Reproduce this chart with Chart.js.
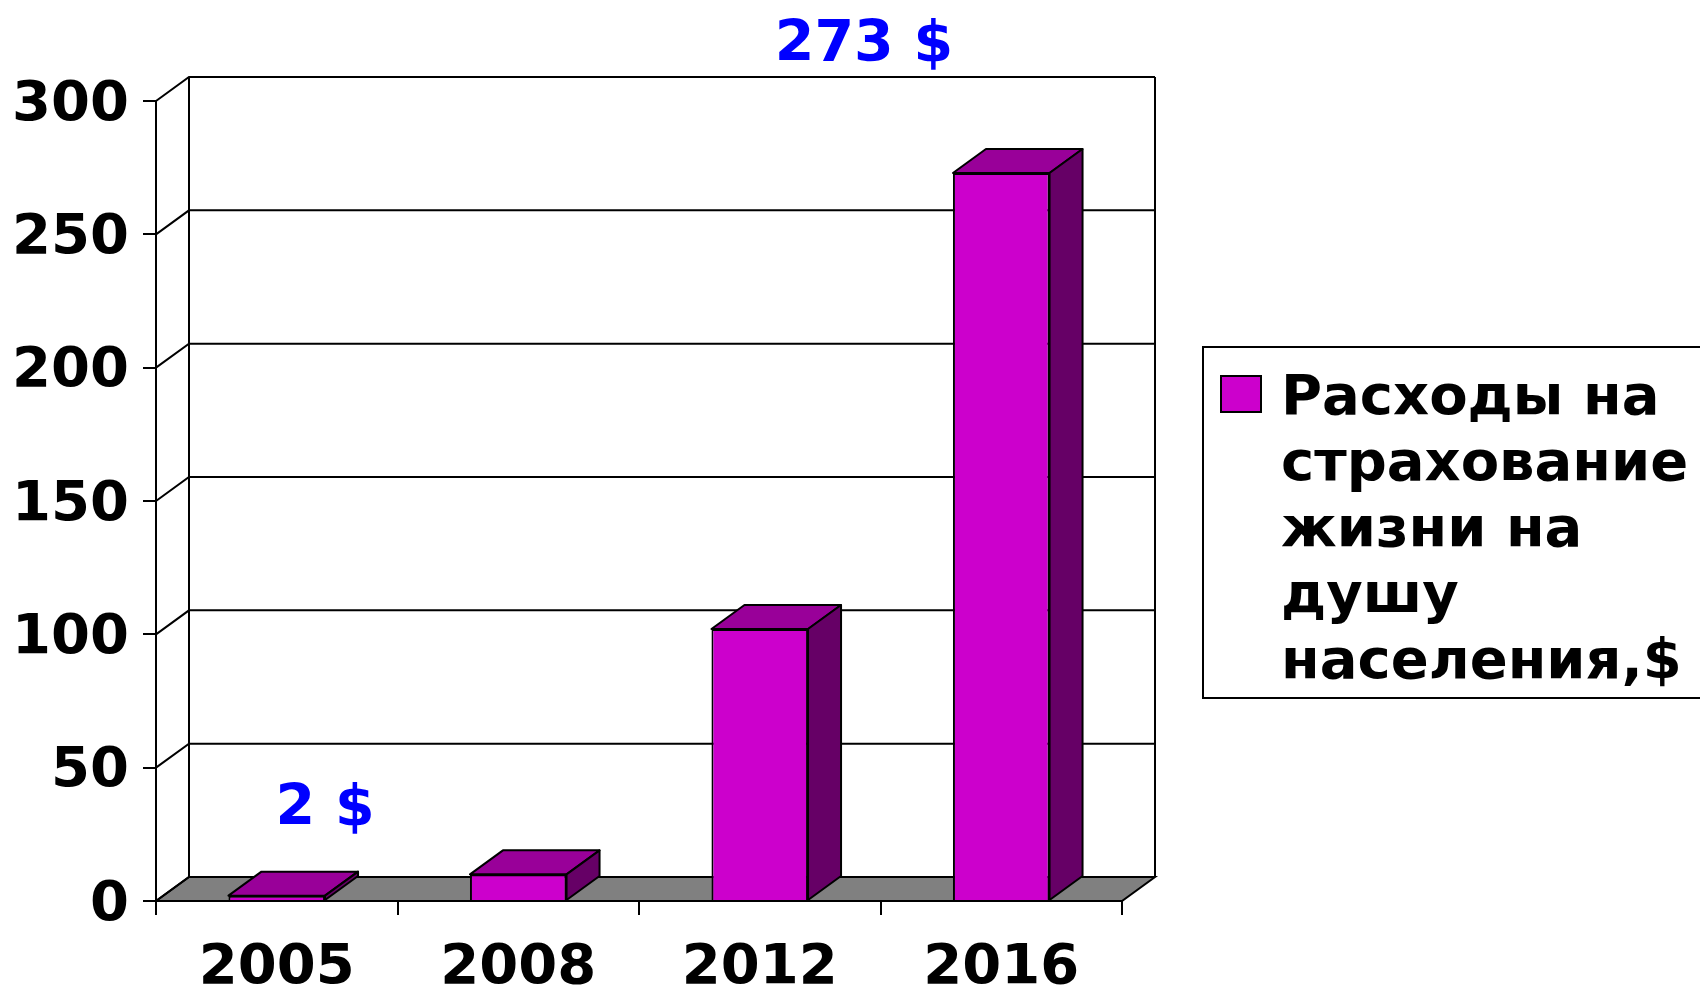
<!DOCTYPE html>
<html>
<head>
<meta charset="utf-8">
<script src="https://cdn.jsdelivr.net/npm/chart.js@4.4.1/dist/chart.umd.min.js"></script>
<style>
  html, body { margin: 0; padding: 0; background: #fff; }
  canvas { display: block; }
</style>
</head>
<body>
<canvas id="chart" width="1700" height="990" style="width:1700px;height:990px"></canvas>
<script>
// data
const years = ['2005', '2008', '2012', '2016'];
const spending = [2, 10, 102, 273];
const yMin = 0;
const yMax = 300;
const yStep = 50;
const seriesName = 'Расходы на страхование жизни на душу населения,$';
const legendLines = ['Расходы на', 'страхование', 'жизни на', 'душу', 'населения,$'];

const FONT = '"DejaVu Sans", Verdana, sans-serif';
const DEPTH_X = 33;
const DEPTH_Y = -24;
const FRONT = '#CC00CC';
const TOP = '#990099';
const SIDE = '#660066';

// back wall, left wall and floor of the 3d box
const box3d = {
  id: 'box3d',
  beforeDatasetsDraw(chart) {
    const ctx = chart.ctx;
    const a = chart.chartArea;
    const y = chart.scales.y;
    ctx.save();
    ctx.strokeStyle = '#000';
    ctx.lineWidth = 2;

    // floor
    ctx.beginPath();
    ctx.moveTo(a.left, a.bottom);
    ctx.lineTo(a.right, a.bottom);
    ctx.lineTo(a.right + DEPTH_X, a.bottom + DEPTH_Y);
    ctx.lineTo(a.left + DEPTH_X, a.bottom + DEPTH_Y);
    ctx.closePath();
    ctx.fillStyle = '#808080';
    ctx.fill();
    ctx.stroke();

    // wall edges
    ctx.beginPath();
    ctx.moveTo(a.left + DEPTH_X, a.top + DEPTH_Y);
    ctx.lineTo(a.left + DEPTH_X, a.bottom + DEPTH_Y);
    ctx.moveTo(a.right + DEPTH_X, a.top + DEPTH_Y);
    ctx.lineTo(a.right + DEPTH_X, a.bottom + DEPTH_Y);
    ctx.stroke();

    // gridlines on back wall + diagonals on side wall
    y.ticks.forEach(t => {
      const py = y.getPixelForValue(t.value);
      ctx.beginPath();
      ctx.moveTo(a.left, py);
      ctx.lineTo(a.left + DEPTH_X, py + DEPTH_Y);
      ctx.lineTo(a.right + DEPTH_X, py + DEPTH_Y);
      ctx.stroke();
    });

    // front axes redrawn on top of the floor
    ctx.beginPath();
    ctx.moveTo(a.left, a.top);
    ctx.lineTo(a.left, a.bottom);
    ctx.lineTo(a.right, a.bottom);
    ctx.stroke();
    ctx.restore();
  },
  afterDatasetsDraw(chart) {
    const ctx = chart.ctx;
    const meta = chart.getDatasetMeta(0);
    ctx.save();
    ctx.strokeStyle = '#000';
    ctx.lineWidth = 2;
    ctx.lineJoin = 'round';
    meta.data.forEach(bar => {
      const p = bar.getProps(['x', 'y', 'base', 'width'], true);
      const l = p.x - p.width / 2;
      const r = p.x + p.width / 2;
      // top face
      ctx.beginPath();
      ctx.moveTo(l, p.y);
      ctx.lineTo(r, p.y);
      ctx.lineTo(r + DEPTH_X, p.y + DEPTH_Y);
      ctx.lineTo(l + DEPTH_X, p.y + DEPTH_Y);
      ctx.closePath();
      ctx.fillStyle = TOP;
      ctx.fill();
      ctx.stroke();
      // side face
      ctx.beginPath();
      ctx.moveTo(r, p.y);
      ctx.lineTo(r + DEPTH_X, p.y + DEPTH_Y);
      ctx.lineTo(r + DEPTH_X, p.base + DEPTH_Y);
      ctx.lineTo(r, p.base);
      ctx.closePath();
      ctx.fillStyle = SIDE;
      ctx.fill();
      ctx.stroke();
    });
    ctx.restore();
  }
};

// callouts and the boxed legend on the right
const extras = {
  id: 'extras',
  afterDraw(chart) {
    const ctx = chart.ctx;
    ctx.save();
    ctx.font = 'bold 57px ' + FONT;
    ctx.fillStyle = '#0000FF';
    ctx.textAlign = 'center';
    ctx.textBaseline = 'alphabetic';
    ctx.fillText(spending[0] + ' $', 325, 825);
    ctx.fillText(spending[3] + ' $', 864, 61);

    // legend
    ctx.strokeStyle = '#000';
    ctx.lineWidth = 2;
    ctx.strokeRect(1203, 347, 560, 351);
    ctx.fillStyle = FRONT;
    ctx.fillRect(1221, 376, 40, 36);
    ctx.strokeRect(1221, 376, 40, 36);
    ctx.fillStyle = '#000';
    ctx.textAlign = 'left';
    ctx.font = 'bold 56px ' + FONT;
    legendLines.forEach((line, i) => {
      ctx.fillText(line, 1281, 414 + i * 66);
    });
    ctx.restore();
  }
};

new Chart(document.getElementById('chart'), {
  type: 'bar',
  data: {
    labels: years,
    datasets: [{
      label: seriesName,
      data: spending,
      backgroundColor: FRONT,
      borderColor: '#000',
      borderWidth: 2,
      categoryPercentage: 1,
      barPercentage: 0.4
    }]
  },
  options: {
    responsive: false,
    animation: false,
    devicePixelRatio: 1,
    layout: { padding: { top: 101, right: 578, bottom: 0, left: 0 } },
    plugins: {
      legend: { display: false },
      tooltip: { enabled: false }
    },
    scales: {
      x: {
        grid: { drawOnChartArea: false, drawTicks: true, tickLength: 14, color: '#000', lineWidth: 2, offset: true },
        border: { display: true, color: '#000', width: 2 },
        ticks: { color: '#000', font: { family: FONT, size: 56, weight: 'bold' }, padding: 20, maxRotation: 0 },
        afterFit(s) { s.height = 89; }
      },
      y: {
        min: yMin,
        max: yMax,
        grid: { drawOnChartArea: false, drawTicks: true, tickLength: 13, color: '#000', lineWidth: 2 },
        border: { display: true, color: '#000', width: 2 },
        ticks: { stepSize: yStep, color: '#000', font: { family: FONT, size: 56, weight: 'bold' }, padding: 14, labelOffset: 4 },
        afterFit(s) { s.width = 156; }
      }
    }
  },
  plugins: [box3d, extras]
});
</script>
</body>
</html>
